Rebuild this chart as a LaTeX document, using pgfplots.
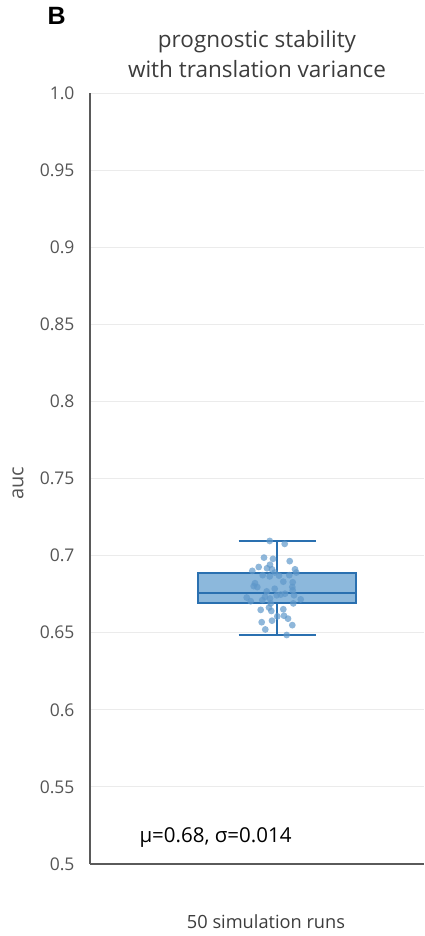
\documentclass[border=0pt]{standalone}
\usepackage{fontspec}
\setmainfont{Open Sans}
\newfontfamily\labelfont{Liberation Sans}
\usepackage{pgfplots}
\pgfplotsset{compat=1.18}
\usepgfplotslibrary{statistics}

\definecolor{boxedge}{RGB}{42,112,176}
\definecolor{boxfill}{RGB}{140,184,220}
\definecolor{ptcolor}{RGB}{95,152,202}
\definecolor{axisgray}{RGB}{90,90,90}
\definecolor{gridgray}{RGB}{235,235,235}
\definecolor{ticktext}{RGB}{85,85,85}
\definecolor{titletext}{RGB}{60,60,60}

% AUC of each simulation run, with a horizontal jitter offset
\pgfplotstableread{
x      auc
-0.073 0.7095
 0.077 0.7076
-0.130 0.6987
-0.040 0.6979
 0.127 0.6964
-0.183 0.6926
-0.070 0.6941
-0.100 0.6918
-0.050 0.6911
-0.247 0.6901
 0.180 0.6911
-0.023 0.6890
 0.193 0.6890
-0.143 0.6873
-0.073 0.6865
 0.123 0.6873
 0.020 0.6870
-0.220 0.6821
 0.063 0.6831
 0.157 0.6827
-0.233 0.6802
-0.197 0.6796
 0.153 0.6796
-0.023 0.6785
-0.103 0.6768
 0.157 0.6775
 0.037 0.6747
-0.003 0.6743
 0.080 0.6753
-0.303 0.6728
-0.120 0.6732
-0.070 0.6722
 0.170 0.6743
-0.263 0.6704
-0.147 0.6711
-0.063 0.6690
 0.237 0.6716
 0.163 0.6690
-0.080 0.6663
-0.163 0.6648
 0.063 0.6652
-0.057 0.6641
 0.003 0.6606
 0.070 0.6610
 0.110 0.6591
-0.153 0.6568
-0.050 0.6578
 0.153 0.6549
-0.117 0.6521
 0.097 0.6485
}\runs

\begin{document}
\begin{tikzpicture}[x=1pt,y=1pt]
\path[use as bounding box] (0,0) rectangle (424,936);
\begin{axis}[
  at={(90pt,72pt)}, anchor=south west,
  scale only axis, width=334pt, height=771pt,
  xmin=-1.87, xmax=1.47, ymin=0.5, ymax=1.0,
  axis x line*=bottom, axis y line*=left,
  axis line style={-, draw=axisgray, line width=1.3pt},
  xtick=\empty,
  ytick={0.5,0.55,0.6,0.65,0.7,0.75,0.8,0.85,0.9,0.95,1.0},
  yticklabels={0.5,0.55,0.6,0.65,0.7,0.75,0.8,0.85,0.9,0.95,1.0},
  major tick length=0pt,
  ymajorgrids, grid style={draw=gridgray, line width=0.9pt},
  yticklabel style={font=\fontsize{17.5}{20}\selectfont, text=ticktext, xshift=-12pt},
  ylabel={auc},
  ylabel style={font=\fontsize{20}{24}\selectfont, text=ticktext,
    at={(axis description cs:0,0.5)}, anchor=center, yshift=72pt, xshift=-5pt},
  xlabel={50 simulation runs},
  xlabel style={font=\fontsize{18.2}{22}\selectfont, text=titletext,
    at={(axis cs:-0.11,0.5)}, anchor=center, yshift=-58pt},
  title={prognostic stability\\with translation variance},
  title style={font=\fontsize{22.5}{30}\selectfont, text=titletext, align=center,
    at={(axis description cs:0.5,1)}, anchor=center, yshift=33pt},
  clip=false,
  boxplot/draw direction=y,
  boxplot/every box/.style={draw=boxedge, fill=boxfill, line width=2pt},
  boxplot/every whisker/.style={draw=boxedge, line width=2pt},
  boxplot/every median/.style={draw=boxedge, line width=2pt},
]
\addplot[boxplot prepared={median=0.676, upper quartile=0.689,
    lower quartile=0.669, upper whisker=0.7095, lower whisker=0.6485,
    draw position=0, box extend=1.58, whisker extend=0.77},
  draw=boxedge, line width=2pt] coordinates {};
\addplot[only marks, mark=*, mark size=3.4pt, color=ptcolor,
  mark options={draw=ptcolor, fill=ptcolor, draw opacity=0, fill opacity=0.7}]
  table[x=x, y=auc] {\runs};
\node[anchor=west, font=\fontsize{20.5}{24}\selectfont, text=black]
  at (axis cs:-1.41,0.517) {μ=0.68, σ=0.014};
\end{axis}
\node[font=\labelfont\bfseries\fontsize{25}{30}\selectfont, anchor=base west] at (44,911) {B};
\end{tikzpicture}
\end{document}
